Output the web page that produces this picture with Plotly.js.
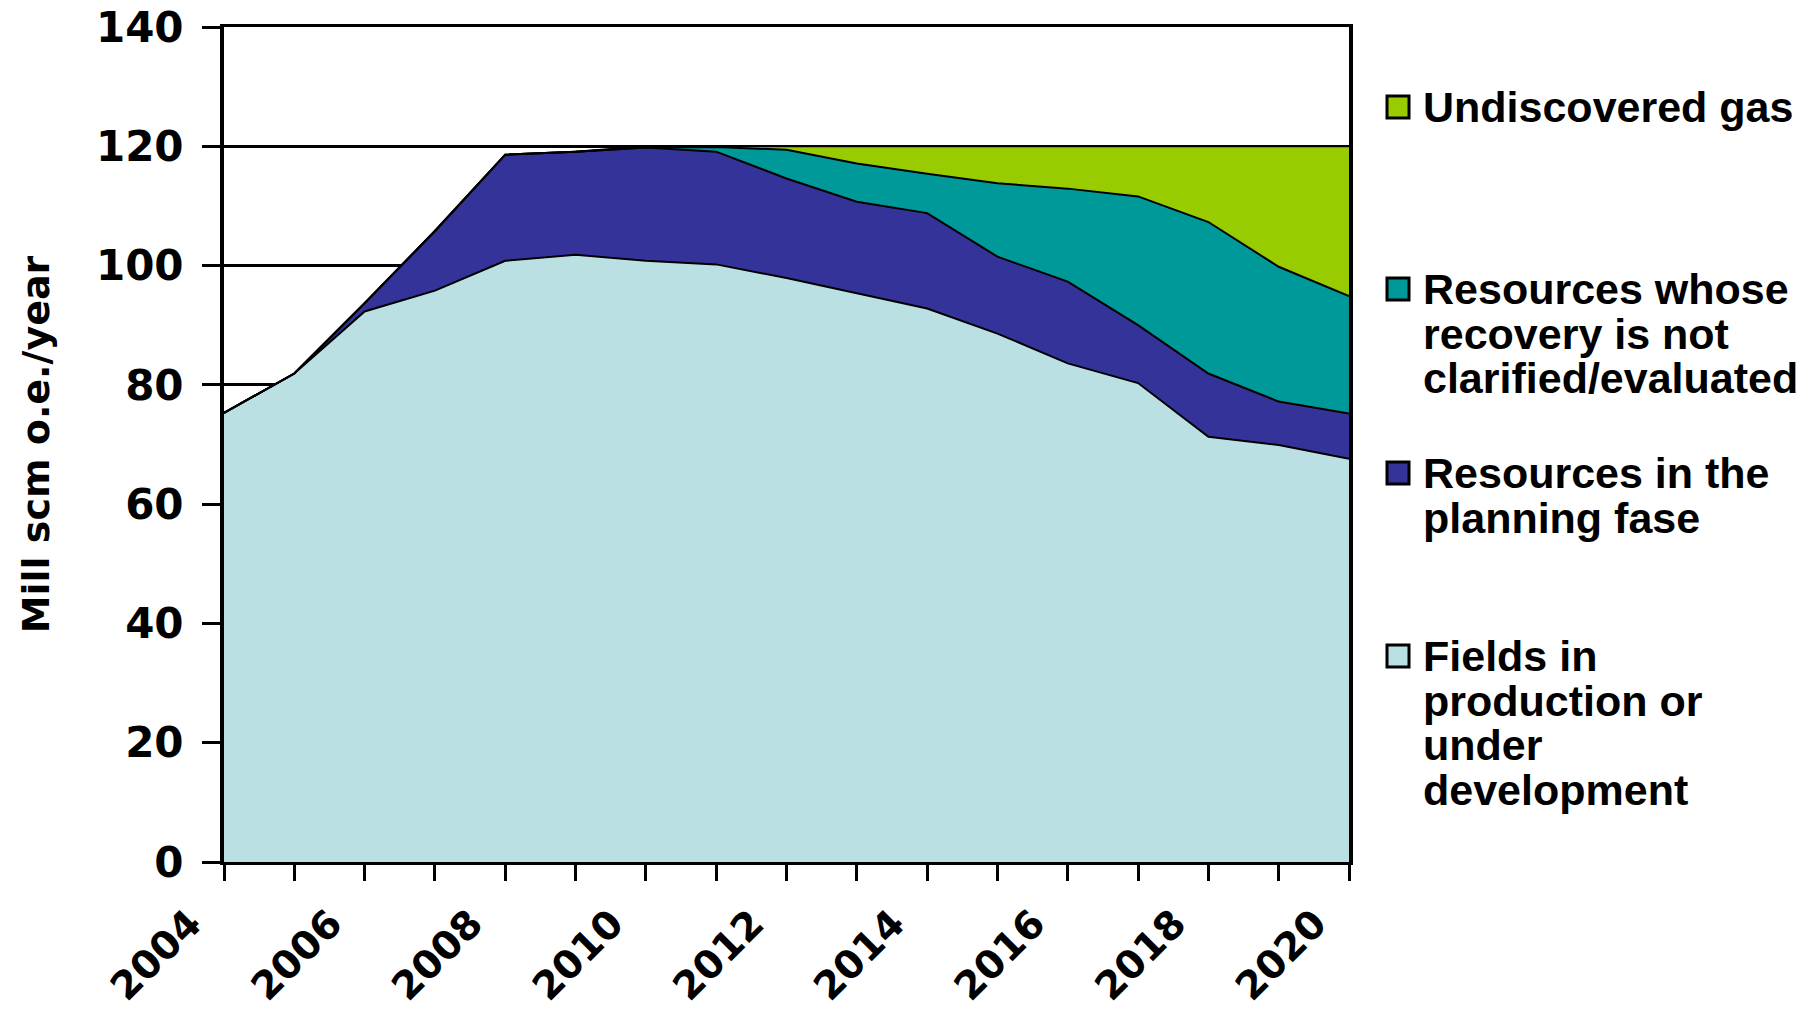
<!DOCTYPE html>
<html>
<head>
<meta charset="utf-8">
<script src="https://cdn.plot.ly/plotly-3.0.1.min.js"></script>
<style>
  html, body { margin: 0; padding: 0; background: #ffffff; }
  #chart { width: 1818px; height: 1015px; }
</style>
</head>
<body>
<div id="chart"></div>
<script>
// ---- Data (Mill scm o.e./year) ----
const years = [2004, 2005, 2006, 2007, 2008, 2009, 2010, 2011, 2012, 2013, 2014, 2015, 2016, 2017, 2018, 2019, 2020];
const fieldsInProduction = [75.3, 81.9, 92.3, 95.8, 100.8, 101.8, 100.8, 100.2, 97.9, 95.3, 92.8, 88.6, 83.6, 80.3, 71.3, 69.9, 67.6];
const planningPhase      = [0, 0, 1.4, 10.0, 17.8, 17.3, 19.0, 18.9, 16.7, 15.4, 16.0, 12.9, 13.7, 9.7, 10.6, 7.3, 7.6];
const notClarified       = [0, 0, 0, 0, 0, 0, 0, 0.8, 4.8, 6.4, 6.6, 12.3, 15.6, 21.6, 25.4, 22.6, 19.7];
const undiscoveredGas    = [0, 0, 0, 0, 0, 0, 0.2, 0.1, 0.6, 2.9, 4.6, 6.2, 7.1, 8.4, 12.7, 20.2, 25.1];

const seriesNames = [
  "Fields in production or under development",
  "Resources in the planning fase",
  "Resources whose recovery is not clarified/evaluated",
  "Undiscovered gas"
];
const seriesColors = ["#BBE0E3", "#333399", "#009999", "#99CC00"];
const seriesValues = [fieldsInProduction, planningPhase, notClarified, undiscoveredGas];

// Legend text as drawn (top to bottom), with wrapped lines
const legendOrder = [3, 2, 1, 0];
const legendLines = [
  ["Undiscovered gas"],
  ["Resources whose", "recovery is not", "clarified/evaluated"],
  ["Resources in the", "planning fase"],
  ["Fields in", "production or", "under", "development"]
];

const yTickVals = [0, 20, 40, 60, 80, 100, 120, 140];

// ---- Layout geometry (pixels) ----
const W = 1818, H = 1015;
const plotL = 224, plotR = 1349, plotT = 27, plotB = 862;
const px2x = px => (px - plotL) / (plotR - plotL);
const px2y = py => (plotB - py) / (plotB - plotT);

const FONT = "DejaVu Sans, Verdana, sans-serif";
const LEGEND_FONT = "Liberation Sans, Arial, Helvetica, sans-serif";

const traces = seriesValues.map((vals, i) => ({
  type: "scatter",
  mode: "lines",
  x: years,
  y: vals,
  name: seriesNames[i],
  stackgroup: "one",
  fillcolor: seriesColors[i],
  line: { color: "#000000", width: 2, shape: "linear" },
  hoverinfo: "x+y+name",
  showlegend: false
}));

// Legend drawn with annotations + shapes
const legendFirstLineY = [107, 289, 473, 656];
const lineStep = 44.7;
const textX = 1421;
const boxCX = 1398, boxSize = 22;
const annotations = [];
const shapes = [];
legendOrder.forEach((seriesIdx, k) => {
  legendLines[k].forEach((line, j) => {
    annotations.push({
      xref: "paper", yref: "paper",
      x: px2x(textX), y: px2y(legendFirstLineY[k] + j * lineStep),
      xanchor: "left", yanchor: "middle",
      text: line, showarrow: false, align: "left",
      font: { family: LEGEND_FONT, size: 43, color: "#000000", weight: "bold" }
    });
  });
  const cy = legendFirstLineY[k];
  shapes.push({
    type: "rect", xref: "paper", yref: "paper",
    x0: px2x(boxCX - boxSize / 2), x1: px2x(boxCX + boxSize / 2),
    y0: px2y(cy + boxSize / 2), y1: px2y(cy - boxSize / 2),
    fillcolor: seriesColors[seriesIdx],
    line: { color: "#000000", width: 3 }
  });
});

const layout = {
  width: W, height: H,
  margin: { l: plotL, r: W - plotR, t: plotT, b: H - plotB, pad: 0 },
  paper_bgcolor: "#ffffff",
  plot_bgcolor: "#ffffff",
  showlegend: false,
  xaxis: {
    type: "linear",
    range: [2004, 2020],
    tick0: 2004, dtick: 2,
    ticks: "outside", ticklen: 16, tickwidth: 3, tickcolor: "#000000",
    minor: { dtick: 1, tick0: 2004, ticks: "outside", ticklen: 16, tickwidth: 3, tickcolor: "#000000", showgrid: false },
    tickangle: -45,
    ticklabelshift: -34,
    ticklabelstandoff: 4,
    tickfont: { family: FONT, size: 39, color: "#000000", weight: "bold" },
    showline: true, linecolor: "#000000", linewidth: 3, mirror: true,
    showgrid: false, zeroline: false, fixedrange: true
  },
  yaxis: {
    range: [0, 140],
    tickvals: yTickVals,
    ticktext: yTickVals.map(String),
    ticks: "outside", ticklen: 18, tickwidth: 3, tickcolor: "#000000",
    ticklabelstandoff: 10,
    tickfont: { family: FONT, size: 42, color: "#000000", weight: "bold" },
    showline: true, linecolor: "#000000", linewidth: 4, mirror: true,
    showgrid: true, gridcolor: "#000000", gridwidth: 2.5,
    zeroline: false, fixedrange: true,
    title: {
      text: "Mill scm o.e./year",
      font: { family: FONT, size: 38, color: "#000000", weight: "bold" },
      standoff: 36
    }
  },
  annotations: annotations,
  shapes: shapes
};

Plotly.newPlot("chart", traces, layout, { displayModeBar: false, staticPlot: false });
</script>
</body>
</html>
